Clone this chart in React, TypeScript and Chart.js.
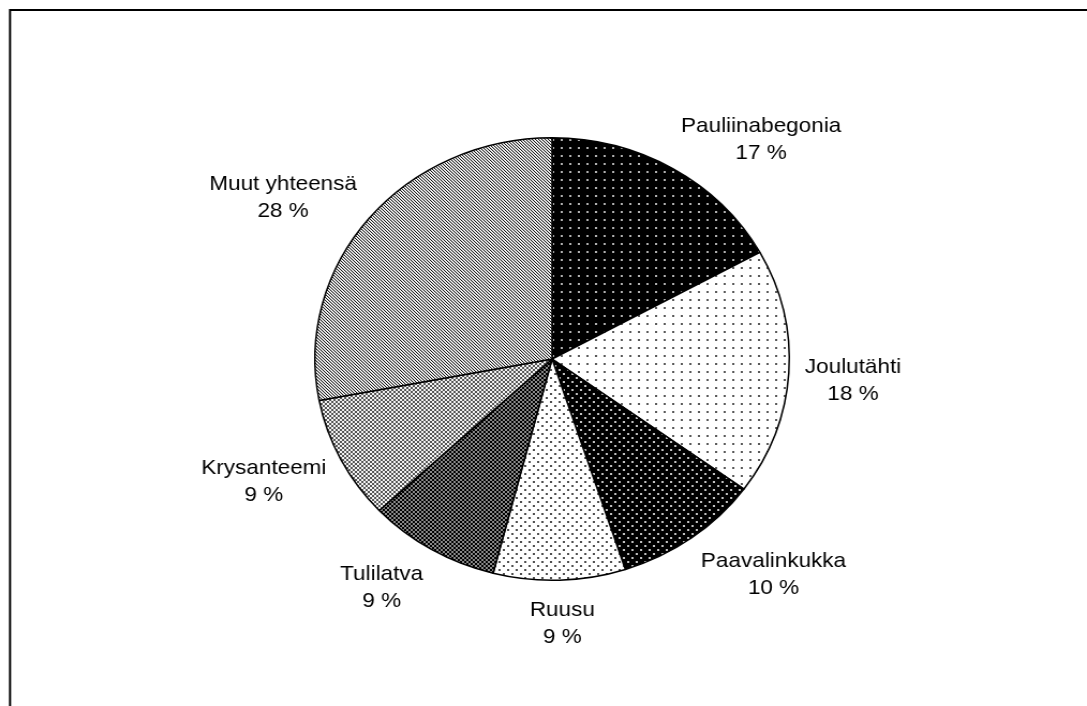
import React, { useEffect, useRef } from "react";
import { Chart, registerables } from "chart.js";

Chart.register(...registerables);

// ---- data ----
const categories = [
  "Pauliinabegonia",
  "Joulutähti",
  "Paavalinkukka",
  "Ruusu",
  "Tulilatva",
  "Krysanteemi",
  "Muut yhteensä",
];
const shares = [17, 18, 10, 9, 9, 9, 28];
const percentLabels = ["17 %", "18 %", "10 %", "9 %", "9 %", "9 %", "28 %"];

// ---- layout / style ----
const STRETCH = 1.072;
const PAGE_W = 1087;
const PAGE_H = 706;
const CANVAS_W = Math.round(PAGE_W / STRETCH);
const FONT_SIZE = 21;
const LINE_H = 27;
const LABEL_GAP = 15;
const LABEL_DY = 5;
const FONT = `${FONT_SIZE}px "Liberation Sans", Arial, sans-serif`;

type Px = [number, number, number, number, string];
type TileSpec = { w: number; h: number; bg: string; px: Px[] };

const muutPx: Px[] = [];
for (let i = 0; i < 3; i++) {
  muutPx.push([i, i, 1, 1, "#1a1a1a"]);
  muutPx.push([(i + 1) % 3, i, 1, 1, "#d0d0d0"]);
}

function lattice(size: number, color: string): Px[] {
  const out: Px[] = [];
  for (let i = 0; i < size; i++) {
    out.push([i, i, 1, 1, color]);
    if (size - 1 - i !== i) out.push([size - 1 - i, i, 1, 1, color]);
  }
  return out;
}

const tileSpecs: TileSpec[] = [
  // Pauliinabegonia: black with sparse light dots
  { w: 8, h: 8, bg: "#000", px: [[3, 3, 2, 2, "#b0b0b0"]] },
  // Joulutähti: white with sparse dark dots
  { w: 8, h: 8, bg: "#fff", px: [[3, 3, 2, 2, "#5a5a5a"]] },
  // Paavalinkukka: black with denser light dots
  { w: 8, h: 8, bg: "#000", px: [[1, 1, 2, 2, "#c0c0c0"], [5, 5, 2, 2, "#c0c0c0"]] },
  // Ruusu: white with denser dark dots
  { w: 8, h: 8, bg: "#fff", px: [[1, 1, 2, 2, "#505050"], [5, 5, 2, 2, "#505050"]] },
  // Tulilatva: dark crosshatch
  { w: 4, h: 4, bg: "#8a8a8a", px: lattice(4, "#000") },
  // Krysanteemi: light crosshatch
  { w: 4, h: 4, bg: "#f4f4f4", px: lattice(4, "#555") },
  // Muut yhteensä: diagonal stripes
  { w: 3, h: 3, bg: "#fff", px: muutPx },
];

function makePattern(ctx: CanvasRenderingContext2D, spec: TileSpec): CanvasPattern | string {
  const t = document.createElement("canvas");
  t.width = spec.w;
  t.height = spec.h;
  const tc = t.getContext("2d")!;
  tc.fillStyle = spec.bg;
  tc.fillRect(0, 0, spec.w, spec.h);
  spec.px.forEach(([x, y, w, h, c]) => {
    tc.fillStyle = c;
    tc.fillRect(x, y, w, h);
  });
  return ctx.createPattern(t, "repeat") || spec.bg;
}

const labelPlugin = {
  id: "outsideLabels",
  afterDatasetsDraw(chart: any) {
    const meta = chart.getDatasetMeta(0);
    const c: CanvasRenderingContext2D = chart.ctx;
    c.save();
    c.font = FONT;
    c.fillStyle = "#000";
    c.textAlign = "center";
    c.textBaseline = "middle";
    meta.data.forEach((arc: any, i: number) => {
      const p = arc.getProps(["x", "y", "startAngle", "endAngle", "outerRadius"], true);
      const mid = (p.startAngle + p.endAngle) / 2;
      const ux = Math.cos(mid);
      const uy = Math.sin(mid);
      const lines = [categories[i], percentLabels[i]];
      const hw = Math.max(...lines.map((l) => c.measureText(l).width)) / 2;
      const hh = (LINE_H * (lines.length - 1) + FONT_SIZE) / 2;
      const d = p.outerRadius + LABEL_GAP;
      const ax = p.x + ux * d;
      const ay = p.y + uy * d;
      const f = Math.max(-1, Math.min(1, ux * 2.2));
      const cx = ax + hw * f;
      const cy = ay + hh * uy + LABEL_DY;
      lines.forEach((l, k) => {
        c.fillText(l, cx, cy + (k - (lines.length - 1) / 2) * LINE_H);
      });
    });
    c.restore();
  },
};

const framePlugin = {
  id: "frame",
  afterDraw(chart: any) {
    const c: CanvasRenderingContext2D = chart.ctx;
    c.save();
    c.strokeStyle = "#000";
    c.lineWidth = 2;
    c.strokeRect(10 / STRETCH, 10, 5000, 5000);
    c.restore();
  },
};

export default function App() {
  const ref = useRef<HTMLCanvasElement>(null);
  useEffect(() => {
    const canvas = ref.current!;
    const ctx = canvas.getContext("2d")!;
    const fills = tileSpecs.map((s) => makePattern(ctx, s));
    const chart = new Chart(canvas, {
      type: "pie",
      data: {
        labels: categories,
        datasets: [
          {
            data: shares,
            backgroundColor: fills as any,
            borderColor: "#000",
            borderWidth: 1.5,
          },
        ],
      },
      options: {
        responsive: false,
        animation: false,
        devicePixelRatio: 1,
        layout: { padding: { top: 137, bottom: 125, left: 215, right: CANVAS_W - 815 } },
        plugins: {
          legend: { display: false },
          tooltip: { enabled: false },
        },
      },
      plugins: [labelPlugin, framePlugin],
    });
    return () => chart.destroy();
  }, []);

  return (
    <div
      style={{
        position: "fixed",
        left: 0,
        top: 0,
        width: PAGE_W,
        height: PAGE_H,
        overflow: "hidden",
        background: "#fff",
      }}
    >
      <div
        style={{
          transform: `scaleX(${STRETCH})`,
          transformOrigin: "0 0",
          width: CANVAS_W,
          height: PAGE_H,
        }}
      >
        <canvas
          ref={ref}
          width={CANVAS_W}
          height={PAGE_H}
          style={{ display: "block", width: CANVAS_W, height: PAGE_H }}
        />
      </div>
    </div>
  );
}
